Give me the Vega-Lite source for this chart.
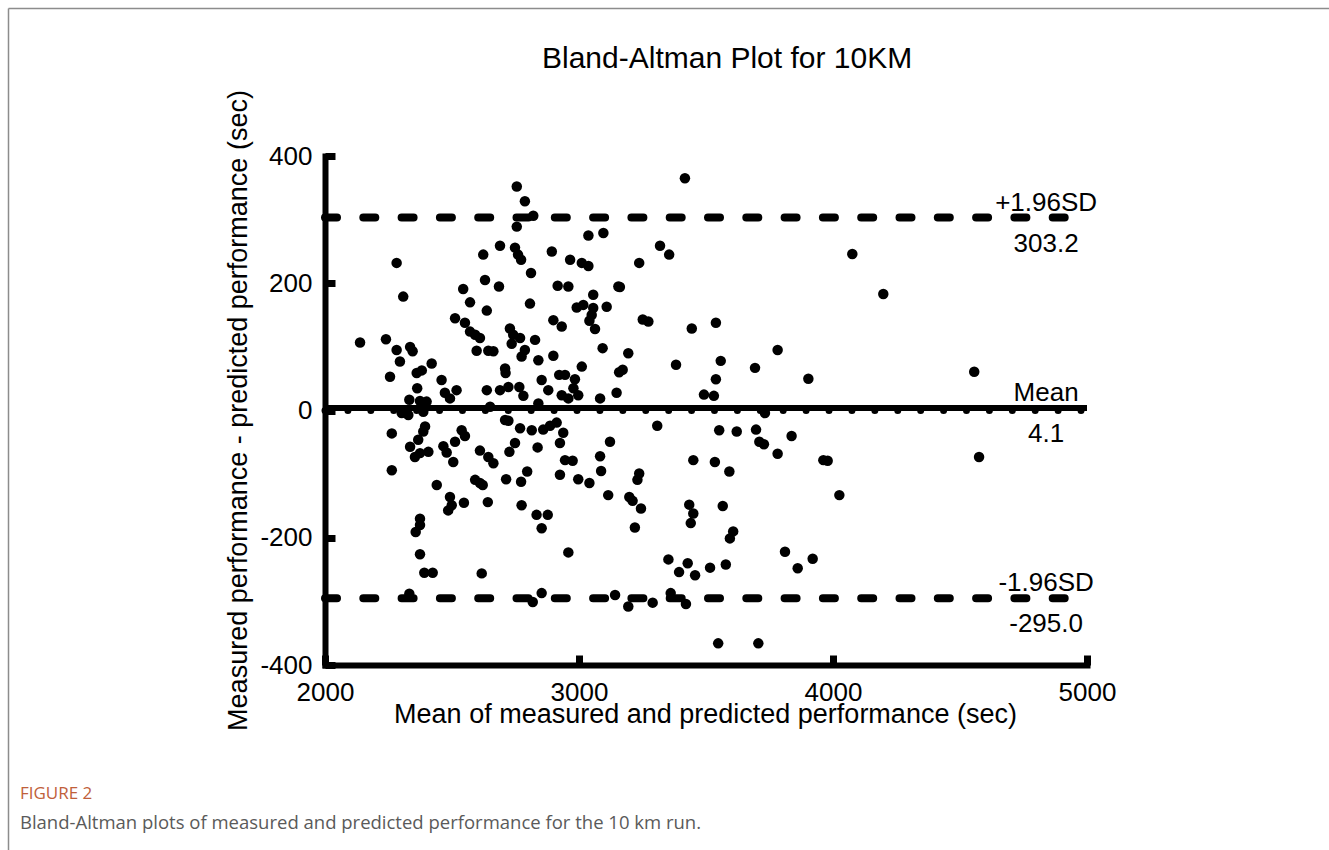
{
  "$schema": "https://vega.github.io/schema/vega-lite/v6.json",
  "width": 762,
  "height": 509,
  "autosize": "none",
  "padding": {"left": 325, "top": 156, "right": 242, "bottom": 185},
  "background": "white",
  "config": {"view": {"stroke": null}, "font": "Liberation Sans"},
  "resolve": {"scale": {"x": "independent", "y": "independent"}, "axis": {"x": "independent", "y": "independent"}},
  "layer": [
    {
      "encoding": {
        "x": {
          "field": "x", "type": "quantitative",
          "scale": {"domain": [2000, 5000], "nice": false, "zero": false},
          "axis": {
            "orient": "bottom",
            "values": [2000, 3000, 4000, 5000], "labelExpr": "'' + datum.value",
            "title": "Mean of measured and predicted performance (sec)",
            "grid": false, "domainColor": "black", "domainWidth": 6, "domainCap": "square",
            "tickColor": "black", "tickWidth": 7, "tickSize": -10, "tickCap": "butt",
            "labelFont": "Liberation Sans", "labelFontSize": 26, "labelColor": "black",
            "labelPadding": 24, "labelFlush": false, "labelOverlap": false,
            "titleFont": "Liberation Sans", "titleFontSize": 27, "titleFontWeight": "normal",
            "titleColor": "black", "titleX": 380, "titleY": 57, "titleBaseline": "alphabetic", "titleAlign": "center"
          }
        },
        "y": {
          "field": "y", "type": "quantitative",
          "scale": {"domain": [-400, 400], "nice": false, "zero": false},
          "axis": {
            "orient": "left",
            "values": [-400, -200, 0, 200, 400], "labelExpr": "'' + datum.value",
            "title": "Measured performance - predicted performance (sec)",
            "grid": false, "domainColor": "black", "domainWidth": 6, "domainCap": "square",
            "tickColor": "black", "tickWidth": 7, "tickSize": -10, "tickCap": "butt",
            "labelFont": "Liberation Sans", "labelFontSize": 26, "labelColor": "black",
            "labelPadding": 23, "labelFlush": false, "labelOverlap": false,
            "titleFont": "Liberation Sans", "titleFontSize": 27, "titleFontWeight": "normal",
            "titleColor": "black", "titleX": -79, "titleY": 254, "titleBaseline": "alphabetic", "titleAlign": "center", "titleAngle": -90
          }
        }
      },
      "layer": [
        {
          "data": {"values": [{"x": 2000, "x2": 5000, "y": 0}]},
          "mark": {"type": "rule", "color": "black", "strokeWidth": 7, "strokeDash": [0.01, 22.9], "strokeCap": "round"},
          "encoding": {"x2": {"field": "x2"}}
        },
        {
          "data": {"values": [{"x": 2000, "x2": 5000, "y": 4.1}]},
          "mark": {"type": "rule", "color": "black", "strokeWidth": 6},
          "encoding": {"x2": {"field": "x2"}}
        },
        {
          "data": {"values": [{"x": 2000, "x2": 5000, "y": 303.2}, {"x": 2000, "x2": 5000, "y": -295.0}]},
          "mark": {"type": "rule", "color": "black", "strokeWidth": 8, "strokeDash": [12, 26.3], "strokeCap": "round"},
          "encoding": {"x2": {"field": "x2"}}
        },
        {
          "data": {"values": [
            {"x":2755,"y":352},{"x":2787,"y":329},{"x":2820,"y":306},{"x":2755,"y":289},{"x":2282,"y":232},
            {"x":2623,"y":245},{"x":2689,"y":259},{"x":2748,"y":256},{"x":2760,"y":245},{"x":2772,"y":237},
            {"x":2811,"y":216},{"x":2893,"y":250},{"x":2965,"y":237},{"x":3011,"y":232},{"x":3037,"y":227},
            {"x":3037,"y":275},{"x":3096,"y":279},{"x":2308,"y":179},{"x":2544,"y":191},{"x":2630,"y":205},
            {"x":2685,"y":195},{"x":2916,"y":196},{"x":2958,"y":195},{"x":3155,"y":195},{"x":3056,"y":182},
            {"x":2571,"y":170},{"x":2637,"y":157},{"x":2807,"y":168},{"x":2991,"y":162},{"x":3017,"y":166},
            {"x":3056,"y":161},{"x":3050,"y":150},{"x":3041,"y":141},{"x":3063,"y":128},{"x":3109,"y":163},
            {"x":2512,"y":145},{"x":2551,"y":138},{"x":2899,"y":142},{"x":2932,"y":132},{"x":2571,"y":124},
            {"x":2591,"y":119},{"x":2610,"y":114},{"x":2728,"y":129},{"x":2741,"y":119},{"x":2768,"y":114},
            {"x":2735,"y":105},{"x":2827,"y":111},{"x":2138,"y":107},{"x":2240,"y":112},{"x":2282,"y":95},
            {"x":2295,"y":77},{"x":2335,"y":100},{"x":2345,"y":93},{"x":2597,"y":94},{"x":2643,"y":94},
            {"x":2663,"y":93},{"x":2787,"y":95},{"x":2774,"y":85},{"x":2840,"y":79},{"x":2899,"y":86},
            {"x":3093,"y":98},{"x":2256,"y":53},{"x":2361,"y":59},{"x":2381,"y":63},{"x":2420,"y":74},
            {"x":2709,"y":66},{"x":2711,"y":59},{"x":3011,"y":69},{"x":2922,"y":56},{"x":2945,"y":56},
            {"x":2853,"y":48},{"x":2984,"y":49},{"x":2363,"y":35},{"x":2459,"y":48},{"x":2472,"y":28},
            {"x":2492,"y":19},{"x":2518,"y":32},{"x":2637,"y":32},{"x":2689,"y":32},{"x":2722,"y":37},
            {"x":2765,"y":37},{"x":2781,"y":23},{"x":2879,"y":32},{"x":2932,"y":24},{"x":2958,"y":19},
            {"x":2997,"y":24},{"x":2978,"y":35},{"x":3083,"y":19},{"x":3148,"y":28},{"x":2332,"y":17},
            {"x":2374,"y":15},{"x":2400,"y":14},{"x":2302,"y":-4},{"x":2328,"y":-7},{"x":2387,"y":-2},
            {"x":2650,"y":6},{"x":2840,"y":11},{"x":2263,"y":-36},{"x":2263,"y":-94},{"x":2394,"y":-25},
            {"x":2387,"y":-33},{"x":2367,"y":-46},{"x":2335,"y":-57},{"x":2354,"y":-73},{"x":2374,"y":-67},
            {"x":2407,"y":-65},{"x":2538,"y":-31},{"x":2551,"y":-40},{"x":2512,"y":-49},{"x":2466,"y":-56},
            {"x":2479,"y":-66},{"x":2505,"y":-81},{"x":2610,"y":-63},{"x":2643,"y":-73},{"x":2663,"y":-83},
            {"x":2709,"y":-15},{"x":2722,"y":-16},{"x":2768,"y":-28},{"x":2814,"y":-31},{"x":2859,"y":-30},
            {"x":2886,"y":-24},{"x":2912,"y":-19},{"x":2938,"y":-35},{"x":2925,"y":-51},{"x":2748,"y":-51},
            {"x":2726,"y":-65},{"x":2837,"y":-58},{"x":2945,"y":-78},{"x":2975,"y":-79},{"x":3122,"y":-49},
            {"x":3083,"y":-72},{"x":3087,"y":-95},{"x":3115,"y":-133},{"x":2925,"y":-101},{"x":2997,"y":-108},
            {"x":3041,"y":-114},{"x":2796,"y":-96},{"x":2772,"y":-112},{"x":2713,"y":-108},{"x":2591,"y":-109},
            {"x":2610,"y":-114},{"x":2621,"y":-117},{"x":2440,"y":-117},{"x":2492,"y":-136},{"x":2499,"y":-149},
            {"x":2485,"y":-157},{"x":2547,"y":-145},{"x":2641,"y":-144},{"x":2774,"y":-149},{"x":2833,"y":-164},
            {"x":2877,"y":-164},{"x":2853,"y":-185},{"x":2374,"y":-170},{"x":2374,"y":-180},{"x":2357,"y":-191},
            {"x":2374,"y":-226},{"x":2391,"y":-255},{"x":2424,"y":-255},{"x":2617,"y":-256},{"x":2958,"y":-223},
            {"x":2332,"y":-288},{"x":2853,"y":-287},{"x":2818,"y":-301},{"x":3142,"y":-290},{"x":3417,"y":365},
            {"x":3319,"y":259},{"x":3355,"y":245},{"x":3237,"y":232},{"x":4076,"y":246},{"x":4198,"y":183},
            {"x":3161,"y":194},{"x":3251,"y":143},{"x":3273,"y":140},{"x":3444,"y":129},{"x":3539,"y":138},
            {"x":3194,"y":90},{"x":3382,"y":72},{"x":3558,"y":78},{"x":3539,"y":49},{"x":3693,"y":67},
            {"x":3782,"y":95},{"x":3903,"y":50},{"x":3172,"y":64},{"x":3158,"y":60},{"x":3492,"y":25},
            {"x":3531,"y":23},{"x":3732,"y":-4},{"x":3308,"y":-24},{"x":3552,"y":-31},{"x":3621,"y":-33},
            {"x":3697,"y":-30},{"x":3710,"y":-49},{"x":3728,"y":-53},{"x":3837,"y":-40},{"x":3782,"y":-68},
            {"x":3962,"y":-78},{"x":3979,"y":-79},{"x":4025,"y":-133},{"x":3450,"y":-78},{"x":3535,"y":-81},
            {"x":3592,"y":-96},{"x":3237,"y":-99},{"x":3230,"y":-109},{"x":3198,"y":-136},{"x":3211,"y":-142},
            {"x":3244,"y":-154},{"x":3220,"y":-184},{"x":3434,"y":-148},{"x":3450,"y":-162},{"x":3440,"y":-177},
            {"x":3566,"y":-150},{"x":3607,"y":-190},{"x":3594,"y":-201},{"x":3811,"y":-222},{"x":3920,"y":-233},
            {"x":3861,"y":-248},{"x":3352,"y":-234},{"x":3428,"y":-240},{"x":3394,"y":-254},{"x":3457,"y":-259},
            {"x":3516,"y":-247},{"x":3578,"y":-242},{"x":3194,"y":-308},{"x":3290,"y":-302},{"x":3361,"y":-287},
            {"x":3421,"y":-304},{"x":3548,"y":-366},{"x":3706,"y":-366},{"x":4556,"y":61},{"x":4575,"y":-73}
          ]},
          "mark": {"type": "circle", "size": 110, "color": "black", "opacity": 1}
        },
        {
          "data": {"values": [
            {"x": 4839, "y": 303.2, "label": "+1.96SD"},
            {"x": 4839, "y": 4.1, "label": "Mean"},
            {"x": 4839, "y": -295.0, "label": "-1.96SD"}
          ]},
          "mark": {"type": "text", "font": "Liberation Sans", "fontSize": 26, "color": "black", "align": "center", "baseline": "alphabetic", "dy": -7},
          "encoding": {"text": {"field": "label"}}
        },
        {
          "data": {"values": [
            {"x": 4839, "y": 303.2, "label": "303.2"},
            {"x": 4839, "y": 4.1, "label": "4.1"},
            {"x": 4839, "y": -295.0, "label": "-295.0"}
          ]},
          "mark": {"type": "text", "font": "Liberation Sans", "fontSize": 26, "color": "black", "align": "center", "baseline": "alphabetic", "dy": 34},
          "encoding": {"text": {"field": "label"}}
        },
        {
          "data": {"values": [{"x": 3583, "y": 539, "label": "Bland-Altman Plot for 10KM"}]},
          "mark": {"type": "text", "font": "Liberation Sans", "fontSize": 30, "color": "black", "align": "center", "baseline": "alphabetic"},
          "encoding": {"text": {"field": "label"}}
        },
        {
          "data": {"values": [{"x": 799, "y": -611, "label": "FIGURE 2"}]},
          "mark": {"type": "text", "font": "Open Sans", "fontSize": 17, "color": "#c0603a", "align": "left", "baseline": "alphabetic"},
          "encoding": {"text": {"field": "label"}}
        },
        {
          "data": {"values": [{"x": 799, "y": -657, "label": "Bland-Altman plots of measured and predicted performance for the 10 km run."}]},
          "mark": {"type": "text", "font": "Open Sans", "fontSize": 18.5, "color": "#5a5a5a", "align": "left", "baseline": "alphabetic"},
          "encoding": {"text": {"field": "label"}}
        }
      ]
    },
    {
      "data": {"values": [{"bx": 0, "by": 0}]},
      "mark": {"type": "point", "opacity": 0},
      "encoding": {
        "x": {"field": "bx", "type": "quantitative",
          "scale": {"domain": [0, 1], "range": [-317, 1004], "nice": false, "zero": false},
          "axis": {"orient": "top", "offset": 148, "labels": false, "ticks": false, "grid": false, "title": null, "domainColor": "#8c8c8c", "domainWidth": 1.5}},
        "y": {"field": "by", "type": "quantitative",
          "scale": {"domain": [0, 1], "range": [694, -148], "nice": false, "zero": false},
          "axis": {"orient": "left", "offset": 317, "labels": false, "ticks": false, "grid": false, "title": null, "domainColor": "#8c8c8c", "domainWidth": 1.5}}
      }
    }
  ]
}
